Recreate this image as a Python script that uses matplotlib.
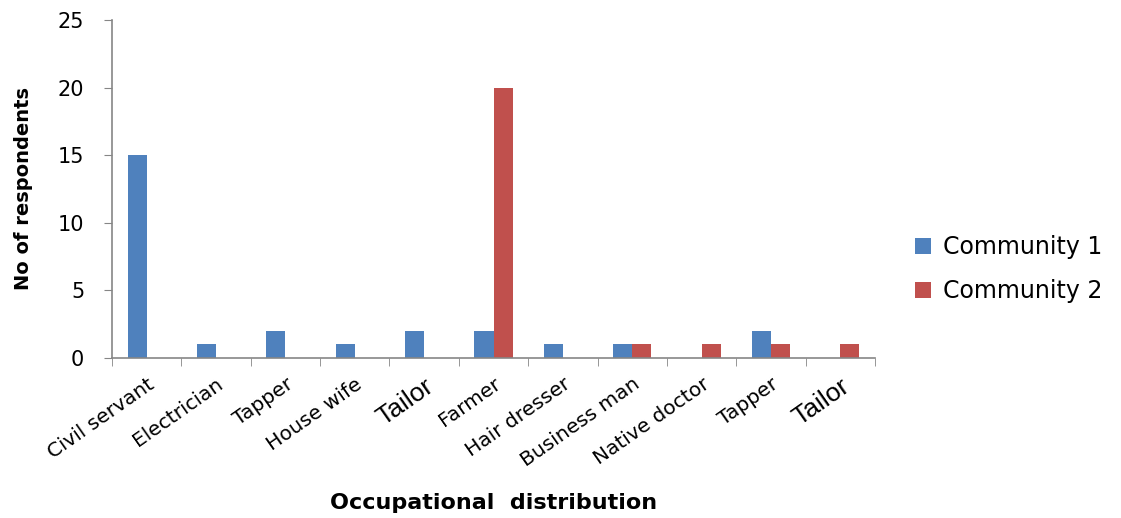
import numpy as np
import matplotlib.pyplot as plt

occupations = ["Civil servant", "Electrician", "Tapper", "House wife", "Tailor", "Farmer",
               "Hair dresser", "Business man", "Native doctor", "Tapper", "Tailor"]
community_1 = [15, 1, 2, 1, 2, 2, 1, 1, 0, 2, 0]
community_2 = [0, 0, 0, 0, 0, 20, 0, 1, 1, 1, 1]

blue = "#4F81BD"
red = "#C0504D"
axis_grey = "#868686"

fig = plt.figure(figsize=(11.21, 5.18), dpi=100)
ax = fig.add_axes([0.0999, 0.309, 0.6807, 0.6525])

x = np.arange(len(occupations))
w = 0.275
ax.bar(x - w / 2, community_1, w, color=blue, label="Community 1")
ax.bar(x + w / 2, community_2, w, color=red, label="Community 2")

ax.set_xlim(-0.5, len(occupations) - 0.5)
ax.set_ylim(0, 25)
ax.set_yticks(range(0, 26, 5))
ax.tick_params(axis="y", labelsize=15, length=6, color=axis_grey, pad=14)

ax.set_xticks(x)
ax.set_xticklabels(occupations, rotation=35, ha="right", rotation_mode="anchor", fontsize=14.5)
for lbl in ax.get_xticklabels():
    if lbl.get_text() == "Tailor":
        lbl.set_fontsize(19)
        lbl.set_family(["Liberation Sans", "DejaVu Sans"])
ax.tick_params(axis="x", which="major", length=0, pad=12)
ax.set_xticks(np.arange(-0.5, len(occupations)), minor=True)
ax.tick_params(axis="x", which="minor", length=6, color=axis_grey)

for side in ["top", "right"]:
    ax.spines[side].set_visible(False)
for side in ["left", "bottom"]:
    ax.spines[side].set_color(axis_grey)
    ax.spines[side].set_linewidth(1.2)

ax.set_ylabel("No of respondents", fontsize=14, fontweight="bold", labelpad=18)
ax.set_xlabel("Occupational  distribution", fontsize=16, fontweight="bold", labelpad=16)

ax.legend(loc="center left", bbox_to_anchor=(1.024, 0.262), frameon=False, fontsize=17,
          handlelength=0.7, handleheight=0.7, handletextpad=0.5, labelspacing=0.85)

fig.savefig("out.png", dpi=100)
